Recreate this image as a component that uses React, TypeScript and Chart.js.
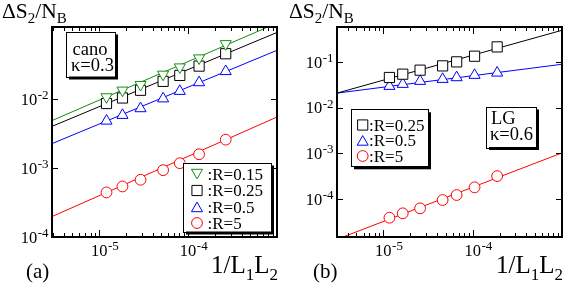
import React, { useEffect, useRef } from "react";
import { Chart, registerables } from "chart.js";

Chart.register(...registerables);

// ---------------- data ----------------
const xTickExponents = [-5, -4];
const leftYTickExponents = [-4, -3, -2];
const rightYTickExponents = [-4, -3, -2, -1];

// panel (a): cano, kappa = 0.3
const leftX = [1.21e-5, 1.83e-5, 2.92e-5, 5.24e-5, 8.07e-5, 1.33e-4, 2.65e-4];
const leftR015 = [0.0108, 0.0135, 0.0163, 0.023, 0.0293, 0.0396, 0.0638];
const leftR025 = [0.00867, 0.01044, 0.0135, 0.0182, 0.0222, 0.0303, 0.0458];
const leftR05 = [0.00485, 0.00587, 0.00734, 0.0102, 0.0131, 0.0175, 0.0254];
const leftR5 = [4.44e-4, 5.42e-4, 6.78e-4, 9.35e-4, 1.18e-3, 1.59e-3, 2.59e-3];
const leftFitX = [2.95e-6, 1e-3];
const leftFitR015 = [0.0049, 0.128];
const leftFitR025 = [0.00404, 0.0933];
const leftFitR05 = [0.00227, 0.0514];
const leftFitR5 = [1.98e-4, 5.52e-3];

// panel (b): LG, kappa = 0.6
const rightX = [1.17e-5, 1.65e-5, 2.58e-5, 4.61e-5, 6.62e-5, 1.05e-4, 1.88e-4];
const rightR025 = [0.0462, 0.0546, 0.0669, 0.083, 0.1016, 0.1352, 0.2163];
const rightR05 = [0.0298, 0.033, 0.0384, 0.0424, 0.0462, 0.052, 0.0583];
const rightR5 = [3.92e-5, 4.89e-5, 6.29e-5, 9.55e-5, 1.23e-4, 1.81e-4, 3.2e-4];
const rightFitX = [3.03e-6, 1e-3];
const rightFitR025 = [0.021, 0.5];
const rightFitR05 = [0.021, 0.09];
const rightFitR5 = [1.32e-5, 1.03e-3];

// ---------------- styles ----------------
const FONT = '"Liberation Serif", "Times New Roman", Times, serif';
const f = (s: number) => `${s}px ${FONT}`;
const GREEN = "rgb(20,140,20)";
const BLACK = "#000000";
const BLUE = "#0000ff";
const RED = "#ff0000";

type Sym = "triangleDown" | "rect" | "triangle" | "circle";
const R_CIRCLE = 5.4;
const R_RECT = 7.2;
const R_TRI = 6.4;

type Series = { label: string; x: number[]; y: number[]; fit: number[]; color: string; sym: Sym };
type Part = { t: string; sub?: boolean };

type PanelCfg = {
  left: number;
  padding: { left: number; right: number; top: number; bottom: number };
  xMin: number; xMax: number; yMin: number; yMax: number;
  yTicks: number[];
  fitX: number[];
  series: Series[];
  yTitleX: number;
  panelLabel: string;
  panelLabelX: number;
  note: { lines: string[]; box: number[]; textX: number[]; baselines: number[]; size: number };
  legend: { box: number[]; symX: number; textX: number; rows: number[]; size: number };
};

const leftPanel: PanelCfg = {
  left: 0,
  padding: { left: 52, right: 9, top: 27, bottom: 48 },
  xMin: 2.95e-6, xMax: 1e-3, yMin: 1e-4, yMax: 0.112,
  yTicks: leftYTickExponents,
  fitX: leftFitX,
  series: [
    { label: ":R=0.15", x: leftX, y: leftR015, fit: leftFitR015, color: GREEN, sym: "triangleDown" },
    { label: ":R=0.25", x: leftX, y: leftR025, fit: leftFitR025, color: BLACK, sym: "rect" },
    { label: ":R=0.5", x: leftX, y: leftR05, fit: leftFitR05, color: BLUE, sym: "triangle" },
    { label: ":R=5", x: leftX, y: leftR5, fit: leftFitR5, color: RED, sym: "circle" },
  ],
  yTitleX: 2,
  panelLabel: "(a)",
  panelLabelX: 26,
  note: { lines: ["cano", "κ=0.3"], box: [66, 31.5, 49, 45], textX: [72.5, 71], baselines: [55, 71], size: 18.5 },
  legend: { box: [183, 162.5, 88, 69], symX: 197, textX: 207.5, rows: [174, 190.5, 207, 223], size: 17 },
};

const rightPanel: PanelCfg = {
  left: 286,
  padding: { left: 51, right: 10, top: 27, bottom: 48 },
  xMin: 3.03e-6, xMax: 1e-3, yMin: 1.48e-5, yMax: 0.59,
  yTicks: rightYTickExponents,
  fitX: rightFitX,
  series: [
    { label: ":R=0.25", x: rightX, y: rightR025, fit: rightFitR025, color: BLACK, sym: "rect" },
    { label: ":R=0.5", x: rightX, y: rightR05, fit: rightFitR05, color: BLUE, sym: "triangle" },
    { label: ":R=5", x: rightX, y: rightR5, fit: rightFitR5, color: RED, sym: "circle" },
  ],
  yTitleX: 3,
  panelLabel: "(b)",
  panelLabelX: 27,
  note: { lines: ["LG", "κ=0.6"], box: [200, 106.5, 50, 40.5], textX: [205, 204], baselines: [124, 140], size: 18.5 },
  legend: { box: [65, 109.3, 77, 57], symX: 76.7, textX: 83, rows: [125, 140.5, 156], size: 17 },
};

// ---------------- drawing helpers ----------------
function drawSymbol(ctx: CanvasRenderingContext2D, sym: Sym, x: number, y: number, color: string) {
  ctx.save();
  ctx.strokeStyle = color;
  ctx.fillStyle = "#ffffff";
  ctx.lineWidth = 1;
  ctx.beginPath();
  if (sym === "circle") {
    ctx.arc(x, y, R_CIRCLE, 0, Math.PI * 2);
  } else if (sym === "rect") {
    const h = R_RECT * Math.SQRT1_2;
    ctx.rect(x - h, y - h, 2 * h, 2 * h);
  } else {
    const r = R_TRI;
    const d = sym === "triangleDown" ? -1 : 1;
    ctx.moveTo(x, y - d * r);
    ctx.lineTo(x + 0.866 * r, y + d * 0.5 * r);
    ctx.lineTo(x - 0.866 * r, y + d * 0.5 * r);
    ctx.closePath();
  }
  ctx.fill();
  ctx.stroke();
  ctx.restore();
}

function drawRich(
  ctx: CanvasRenderingContext2D,
  parts: Part[],
  x: number,
  y: number,
  size: number,
  subSize: number,
  drop: number,
  align: "left" | "right"
) {
  const widths = parts.map((p) => {
    ctx.font = f(p.sub ? subSize : size);
    return ctx.measureText(p.t).width;
  });
  const total = widths.reduce((a, b) => a + b, 0);
  let cx = align === "right" ? x - total : x;
  ctx.textAlign = "left";
  ctx.textBaseline = "alphabetic";
  parts.forEach((p, i) => {
    ctx.font = f(p.sub ? subSize : size);
    ctx.fillText(p.t, cx, p.sub ? y + drop : y);
    cx += widths[i];
  });
}

function drawPow(
  ctx: CanvasRenderingContext2D,
  exp: number,
  x: number,
  y: number,
  mode: "center" | "right"
) {
  const base = "10";
  const sup = String(exp);
  ctx.font = f(16.5);
  const wb = ctx.measureText(base).width;
  ctx.font = f(13);
  const ws = ctx.measureText(sup).width;
  const bx = mode === "center" ? x - wb / 2 : x - wb - ws - 0.5;
  ctx.textAlign = "left";
  ctx.textBaseline = "alphabetic";
  ctx.font = f(16.5);
  ctx.fillText(base, bx, y);
  ctx.font = f(13);
  ctx.fillText(sup, bx + wb + 0.5, y - 5.5);
}

function shadowBox(ctx: CanvasRenderingContext2D, b: number[]) {
  const [x, y, w, h] = b;
  ctx.save();
  ctx.fillStyle = "#000";
  ctx.fillRect(x + 3, y + 3, w, h);
  ctx.fillStyle = "#fff";
  ctx.fillRect(x, y, w, h);
  ctx.strokeStyle = "#000";
  ctx.lineWidth = 1;
  ctx.strokeRect(Math.round(x) + 0.5, Math.round(y) + 0.5, Math.round(w), Math.round(h));
  ctx.restore();
}

function decoPlugin(p: PanelCfg) {
  return {
    id: "deco",
    afterDatasetsDraw(chart: any) {
      const ctx: CanvasRenderingContext2D = chart.ctx;
      const a = chart.chartArea;
      const xs = chart.scales.x;
      const ys = chart.scales.y;
      ctx.save();
      ctx.fillStyle = "#000";
      ctx.strokeStyle = "#000";

      // x ticks (major + minor, bottom and top, inward)
      ctx.lineWidth = 1;
      const n0 = Math.floor(Math.log10(p.xMin));
      const n1 = Math.ceil(Math.log10(p.xMax));
      for (let n = n0; n <= n1; n++) {
        for (let k = 1; k <= 9; k++) {
          const v = k * Math.pow(10, n);
          if (v <= p.xMin * 1.001 || v >= p.xMax * 0.999) continue;
          const px = Math.round(xs.getPixelForValue(v)) + 0.5;
          const len = k === 1 ? 7 : 4;
          ctx.beginPath();
          ctx.moveTo(px, a.bottom);
          ctx.lineTo(px, a.bottom - len);
          ctx.moveTo(px, a.top);
          ctx.lineTo(px, a.top + len);
          ctx.stroke();
        }
      }
      // y ticks (major only, left and right, inward)
      p.yTicks.forEach((e) => {
        const v = Math.pow(10, e);
        const py = ys.getPixelForValue(v);
        if (v > p.yMin * 1.001 && v < p.yMax * 0.999) {
          const y = Math.round(py) + 0.5;
          ctx.beginPath();
          ctx.moveTo(a.left, y);
          ctx.lineTo(a.left + 6, y);
          ctx.moveTo(a.right, y);
          ctx.lineTo(a.right - 6, y);
          ctx.stroke();
        }
        drawPow(ctx, e, a.left - 3.5, py + 5.5, "right");
      });
      // x tick labels
      xTickExponents.forEach((e) => {
        const px = xs.getPixelForValue(Math.pow(10, e));
        drawPow(ctx, e, px, 255.5, "center");
      });

      // frame
      ctx.lineWidth = 2;
      ctx.strokeRect(a.left, a.top, a.right - a.left, a.bottom - a.top);

      // titles
      drawRich(ctx, [{ t: "ΔS" }, { t: "2", sub: true }, { t: "/N" }, { t: "B", sub: true }], p.yTitleX, 17.5, 21.5, 15, 5.5, "left");
      drawRich(ctx, [{ t: "1/L" }, { t: "1", sub: true }, { t: "L" }, { t: "2", sub: true }], a.right + 1, 272.5, 25, 17, 7, "right");
      ctx.font = f(21);
      ctx.textAlign = "left";
      ctx.fillText(p.panelLabel, p.panelLabelX, 278);

      // note box
      shadowBox(ctx, p.note.box);
      ctx.fillStyle = "#000";
      ctx.font = f(p.note.size);
      p.note.lines.forEach((t, i) => ctx.fillText(t, p.note.textX[i], p.note.baselines[i]));

      // legend box
      shadowBox(ctx, p.legend.box);
      p.series.forEach((s, i) => {
        const cy = p.legend.rows[i];
        drawSymbol(ctx, s.sym, p.legend.symX, s.sym === "triangleDown" ? cy - 1.5 : s.sym === "triangle" ? cy + 1.5 : cy, s.color);
        ctx.fillStyle = "#000";
        ctx.font = f(p.legend.size);
        ctx.textAlign = "left";
        ctx.fillText(s.label, p.legend.textX, cy + 5.5);
      });
      ctx.restore();
    },
  };
}

function buildConfig(p: PanelCfg): any {
  const pointSets = p.series.map((s) => ({
    label: s.label,
    data: s.x.map((v, i) => ({ x: v, y: s.y[i] })),
    showLine: false,
    pointStyle: s.sym === "triangleDown" ? "triangle" : s.sym,
    rotation: s.sym === "triangleDown" ? 180 : 0,
    pointRadius: s.sym === "circle" ? R_CIRCLE : s.sym === "rect" ? R_RECT : R_TRI,
    pointHoverRadius: s.sym === "circle" ? R_CIRCLE : s.sym === "rect" ? R_RECT : R_TRI,
    pointBorderWidth: 1,
    pointBackgroundColor: "#ffffff",
    pointBorderColor: s.color,
    borderColor: s.color,
    backgroundColor: "#ffffff",
  }));
  const fitSets = p.series.map((s) => ({
    label: s.label + " fit",
    data: p.fitX.map((v, i) => ({ x: v, y: s.fit[i] })),
    showLine: true,
    pointRadius: 0,
    pointHoverRadius: 0,
    borderColor: s.color,
    borderWidth: 1,
    fill: false,
  }));
  return {
    type: "scatter",
    data: { datasets: [...pointSets, ...fitSets] },
    options: {
      animation: false,
      responsive: false,
      maintainAspectRatio: false,
      events: [],
      layout: { padding: p.padding },
      plugins: { legend: { display: false }, tooltip: { enabled: false }, title: { display: false } },
      scales: {
        x: { type: "logarithmic", min: p.xMin, max: p.xMax, bounds: "data", display: false },
        y: { type: "logarithmic", min: p.yMin, max: p.yMax, bounds: "data", display: false },
      },
    },
    plugins: [decoPlugin(p)],
  };
}

function Panel({ cfg }: { cfg: PanelCfg }) {
  const ref = useRef<HTMLCanvasElement>(null);
  useEffect(() => {
    const chart = new Chart(ref.current as HTMLCanvasElement, buildConfig(cfg));
    return () => chart.destroy();
  }, [cfg]);
  return (
    <canvas
      ref={ref}
      width={286}
      height={285}
      style={{ position: "absolute", left: cfg.left, top: 0, width: 286, height: 285 }}
    />
  );
}

export default function App() {
  return (
    <div style={{ position: "absolute", left: 0, top: 0, width: 572, height: 285, background: "#fff", overflow: "hidden" }}>
      <Panel cfg={leftPanel} />
      <Panel cfg={rightPanel} />
    </div>
  );
}
